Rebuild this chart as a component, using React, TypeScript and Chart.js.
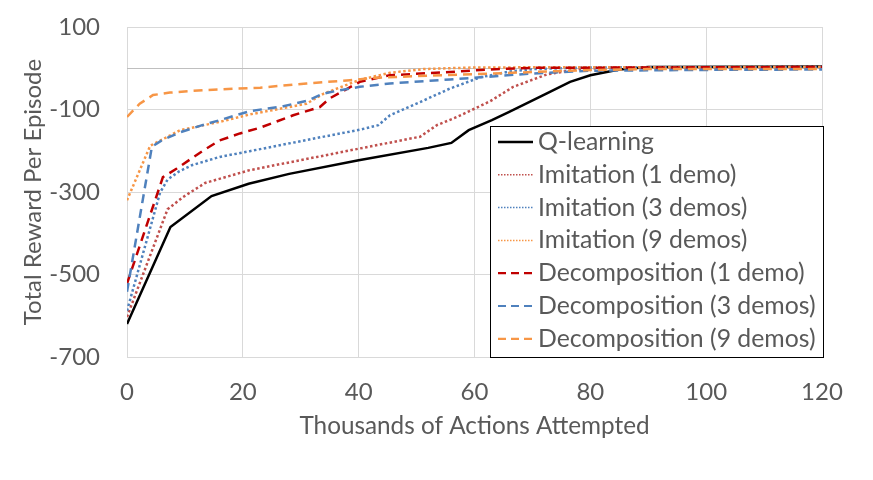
import React, { useEffect, useRef } from "react";
import { Chart, registerables } from "chart.js";

Chart.register(...registerables);

const seriesNames = [
  "Q-learning",
  "Imitation (1 demo)",
  "Imitation (3 demos)",
  "Imitation (9 demos)",
  "Decomposition (1 demo)",
  "Decomposition (3 demos)",
  "Decomposition (9 demos)",
];

const qLearningX = [0, 7.5, 14.6, 21, 28, 40, 52, 56, 59, 63, 66, 72.5, 76.5, 80, 85, 90, 120];
const qLearningY = [-620, -385, -310, -280, -256, -223, -193, -181, -150, -126, -106, -61, -33, -17, -3, 3, 4];

const imit1X = [0, 7, 9.7, 13.5, 21.2, 27, 32.8, 40, 50.6, 53.5, 57, 62.7, 66.7, 72.5, 78, 85, 120];
const imit1Y = [-603, -342, -312, -278, -247, -231, -215, -195, -166, -138, -118, -80, -45, -15, -2, 2, 3];

const imit3X = [0, 5.7, 7, 9, 11.2, 16, 21.2, 32.8, 40.2, 43.4, 45.4, 50.6, 55.8, 61, 66, 70, 80, 120];
const imit3Y = [-588, -302, -270, -250, -235, -215, -201, -169, -149, -138, -114, -82, -49, -22, -8, -2, 2, 3];

const imit9X = [0, 4, 9.2, 16, 21.2, 31, 33.9, 40.2, 45.4, 51.2, 60, 120];
const imit9Y = [-320, -188, -150, -130, -112, -86, -62, -28, -11, -2, 2, 3];

const decomp1X = [0, 6.2, 8.6, 13.2, 16, 19.5, 23, 28.7, 33.3, 35, 40.2, 45.4, 55.8, 62.7, 70, 120];
const decomp1Y = [-522, -264, -243, -199, -175, -158, -144, -114, -94, -73, -33, -17, -9, -3, 1, 3];

const decomp3X = [0, 4.3, 6, 9.2, 13, 16, 21.2, 27, 31.3, 33.6, 35, 40.2, 45.4, 55.8, 61, 69.6, 80, 100, 120];
const decomp3Y = [-542, -190, -175, -155, -138, -126, -104, -92, -78, -63, -58, -45, -37, -27, -22, -13, -6, -4, -3];

const decomp9X = [0, 2.2, 4.5, 7.4, 13.2, 23, 31, 38.5, 43, 50, 62.7, 78, 90, 120];
const decomp9Y = [-118, -86, -65, -59, -53, -47, -37, -29, -23, -19, -13, -5, -2, -2];

const xTickStep = 20;
const yTickValues = [100, -100, -300, -500, -700];

const FONT = "Lato, 'Open Sans', sans-serif";
const TEXT = "#595959";

function pts(xs: number[], ys: number[]) {
  return xs.map((x, i) => ({ x, y: ys[i] }));
}

export default function App() {
  const ref = useRef<HTMLCanvasElement>(null);
  useEffect(() => {
    const canvas = ref.current!;
    const styles = [
      { color: "#000000", dash: [] as number[], width: 2.5, lDash: [] as number[], lWidth: 2.5 },
      { color: "#C0504D", dash: [2.5, 2.5], width: 2.5, lDash: [1.5, 1.5], lWidth: 1.5 },
      { color: "#4F81BD", dash: [2.5, 2.5], width: 2.5, lDash: [1.5, 1.5], lWidth: 1.5 },
      { color: "#F79646", dash: [2.5, 2.5], width: 2.5, lDash: [1.5, 1.5], lWidth: 1.5 },
      { color: "#C00000", dash: [9, 6], width: 2.5, lDash: [8, 5], lWidth: 2.2 },
      { color: "#4F81BD", dash: [9, 6], width: 2.5, lDash: [8, 5], lWidth: 2.2 },
      { color: "#F79646", dash: [9, 6], width: 2.5, lDash: [8, 5], lWidth: 2.2 },
    ];
    const data = [
      pts(qLearningX, qLearningY),
      pts(imit1X, imit1Y),
      pts(imit3X, imit3Y),
      pts(imit9X, imit9Y),
      pts(decomp1X, decomp1Y),
      pts(decomp3X, decomp3Y),
      pts(decomp9X, decomp9Y),
    ];
    const order = [6, 5, 4, 3, 2, 1, 0];
    const datasets = data.map((d, i) => ({
      label: seriesNames[i],
      data: d,
      showLine: true,
      borderColor: styles[i].color,
      backgroundColor: styles[i].color,
      borderWidth: styles[i].width,
      borderDash: styles[i].dash,
      pointRadius: 0,
      tension: 0,
      fill: false,
      order: order[i],
    }));

    const zeroLine = {
      id: "zeroLine",
      beforeDatasetsDraw(chart: any) {
        const { ctx, chartArea, scales } = chart;
        const y = Math.round(scales.y.getPixelForValue(0)) + 0.5;
        ctx.save();
        ctx.strokeStyle = "#BFBFBF";
        ctx.lineWidth = 1;
        ctx.beginPath();
        ctx.moveTo(chartArea.left, y);
        ctx.lineTo(chartArea.right, y);
        ctx.stroke();
        ctx.restore();
      },
    };

    const legendBox = {
      id: "legendBox",
      afterDatasetsDraw(chart: any) {
        const { ctx } = chart;
        const x0 = 490.5, y0 = 126.5, x1 = 823.5, y1 = 357.5;
        ctx.save();
        ctx.fillStyle = "#FFFFFF";
        ctx.fillRect(x0, y0, x1 - x0, y1 - y0);
        ctx.strokeStyle = "#000000";
        ctx.lineWidth = 1;
        ctx.setLineDash([]);
        ctx.strokeRect(x0, y0, x1 - x0, y1 - y0);
        ctx.font = `24.8px ${FONT}`;
        ctx.textBaseline = "middle";
        ctx.textAlign = "left";
        seriesNames.forEach((name, i) => {
          const cy = 142 + i * 32.8;
          const s = styles[i];
          ctx.strokeStyle = s.color;
          ctx.lineWidth = s.lWidth;
          ctx.setLineDash(s.lDash);
          ctx.beginPath();
          ctx.moveTo(498, cy);
          ctx.lineTo(533, cy);
          ctx.stroke();
          ctx.setLineDash([]);
          ctx.fillStyle = TEXT;
          ctx.fillText(name, 538, cy);
        });
        ctx.restore();
      },
    };

    const chart = new Chart(canvas, {
      type: "scatter",
      data: { datasets: datasets as any },
      plugins: [zeroLine, legendBox],
      options: {
        animation: false,
        responsive: false,
        devicePixelRatio: 1,
        layout: { padding: { top: 27, right: 51, left: 0, bottom: 0 } },
        plugins: {
          legend: { display: false },
          tooltip: { enabled: false },
        },
        scales: {
          x: {
            type: "linear",
            min: 0,
            max: 120,
            ticks: {
              stepSize: xTickStep,
              color: TEXT,
              font: { family: FONT, size: 24 },
              padding: 21,
              maxRotation: 0,
            },
            grid: { color: "#D9D9D9", drawTicks: false },
            border: { display: true, color: "#D9D9D9" },
            title: {
              display: true,
              text: "Thousands of Actions Attempted",
              color: TEXT,
              font: { family: FONT, size: 24.3, lineHeight: 1.2 },
              padding: { top: 0, bottom: 39 },
            },
            afterFit(scale: any) {
              scale.height = 123;
              scale.paddingLeft = 0;
              scale.paddingRight = 0;
            },
          },
          y: {
            type: "linear",
            min: -700,
            max: 100,
            afterBuildTicks(scale: any) {
              scale.ticks = yTickValues.map((v) => ({ value: v }));
            },
            ticks: {
              color: TEXT,
              font: { family: FONT, size: 24 },
              padding: 27,
            },
            grid: { color: "#D9D9D9", drawTicks: false },
            border: { display: true, color: "#D9D9D9" },
            title: {
              display: true,
              text: "Total Reward Per Episode",
              color: TEXT,
              font: { family: FONT, size: 24, lineHeight: 1.2 },
              padding: { top: 19, bottom: 0 },
            },
            afterFit(scale: any) {
              scale.width = 127;
              scale.paddingTop = 0;
              scale.paddingBottom = 0;
            },
          },
        },
      },
    } as any);
    return () => chart.destroy();
  }, []);
  return (
    <div style={{ position: "absolute", left: 0, top: 0, width: 873, height: 480, background: "#fff" }}>
      <canvas ref={ref} width={873} height={480} style={{ width: 873, height: 480, display: "block" }} />
    </div>
  );
}
